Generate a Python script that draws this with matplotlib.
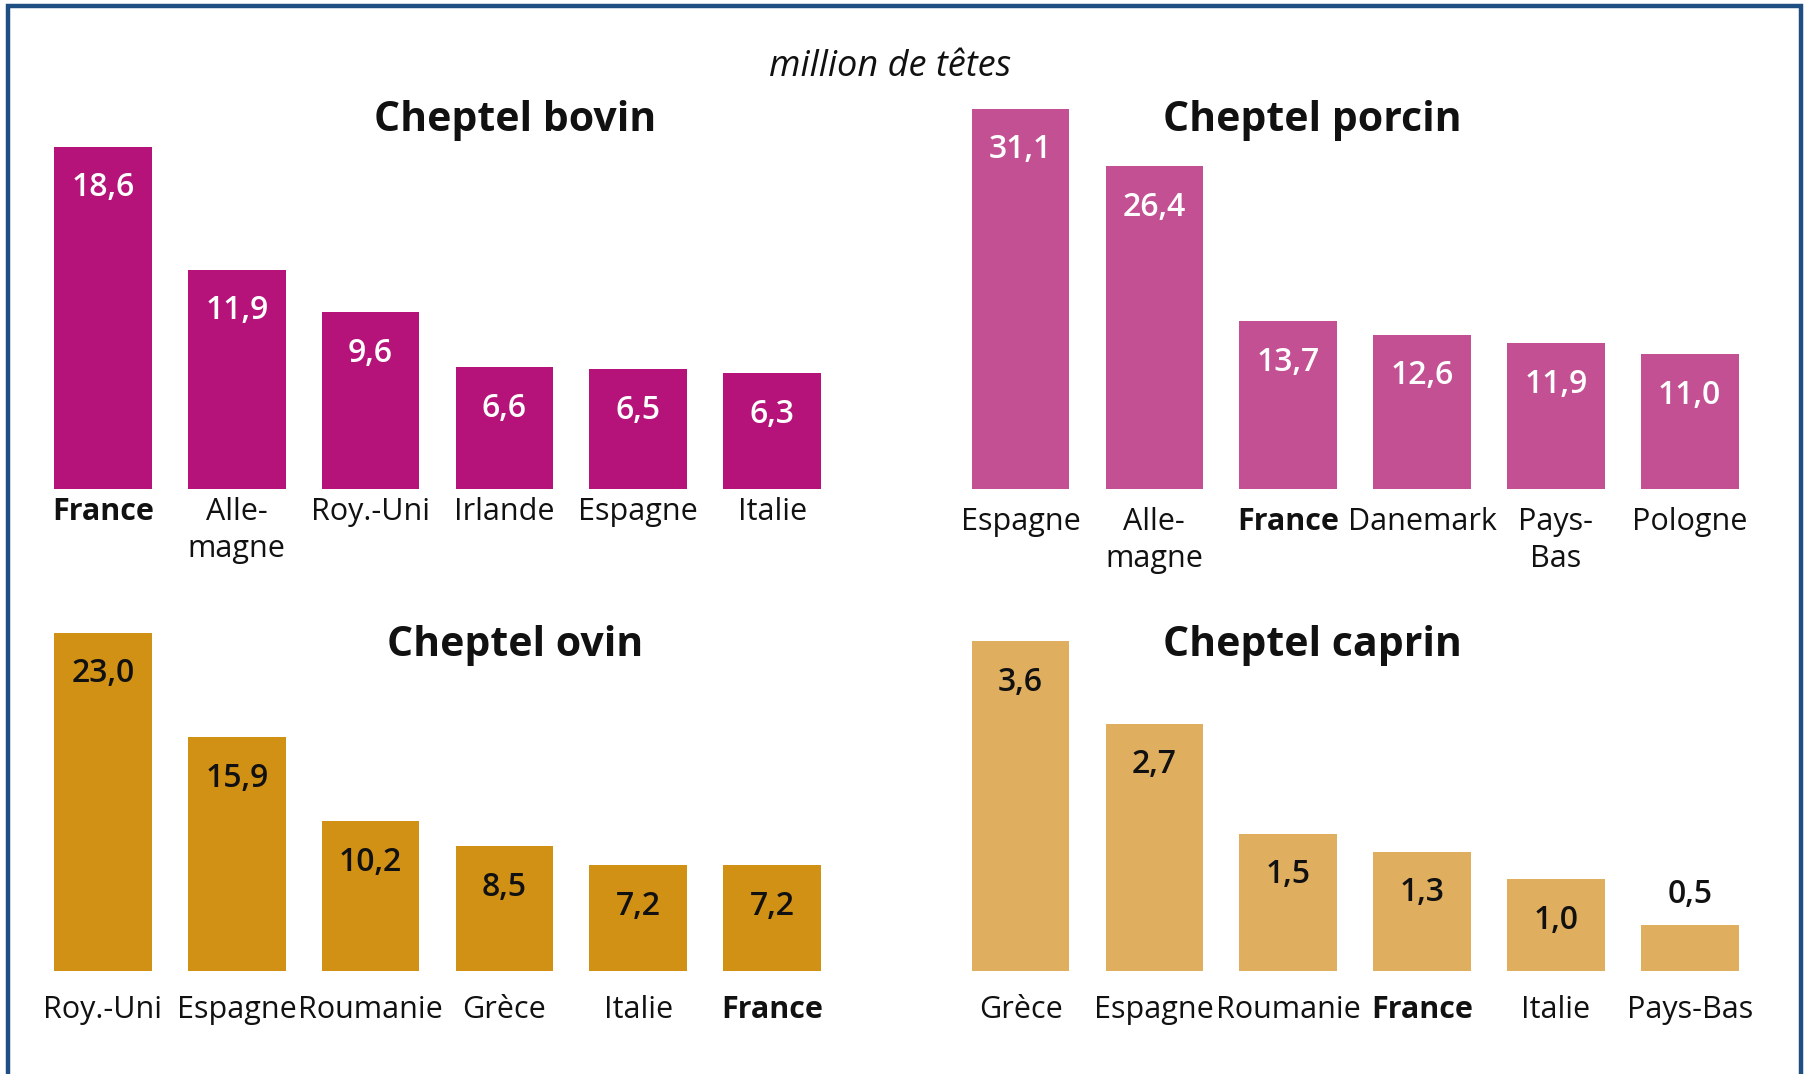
import matplotlib
matplotlib.use("Agg")
import matplotlib.pyplot as plt
from matplotlib.patches import Rectangle

plt.rcParams['font.family'] = ['Open Sans', 'DejaVu Sans']

# ---- data ----
unit_label = "million de têtes"

bovin_title = "Cheptel bovin"
bovin_countries = ["France", "Alle-\nmagne", "Roy.-Uni", "Irlande", "Espagne", "Italie"]
bovin_values = [18.6, 11.9, 9.6, 6.6, 6.5, 6.3]

porcin_title = "Cheptel porcin"
porcin_countries = ["Espagne", "Alle-\nmagne", "France", "Danemark", "Pays-\nBas", "Pologne"]
porcin_values = [31.1, 26.4, 13.7, 12.6, 11.9, 11.0]

ovin_title = "Cheptel ovin"
ovin_countries = ["Roy.-Uni", "Espagne", "Roumanie", "Grèce", "Italie", "France"]
ovin_values = [23.0, 15.9, 10.2, 8.5, 7.2, 7.2]

caprin_title = "Cheptel caprin"
caprin_countries = ["Grèce", "Espagne", "Roumanie", "France", "Italie", "Pays-Bas"]
caprin_values = [3.6, 2.7, 1.5, 1.3, 1.0, 0.5]

W, H = 1808, 1074
fig = plt.figure(figsize=(W / 100, H / 100), dpi=100)
fig.patch.set_facecolor('white')

# border frame
fig.patches.append(Rectangle((8 / W, -0.05), (1801 - 8) / W, 1 - 6 / H + 0.05,
                             transform=fig.transFigure, fill=False,
                             edgecolor='#1F4E82', linewidth=3.2, zorder=10))

fig.text(890 / W, 1 - 76 / H, unit_label, ha='center', va='baseline',
         fontsize=26, style='italic', color='#111111')

panels = [
    # title, countries, values, color, label color, axes rect, ylim top, title pos, tick pad
    (bovin_title, bovin_countries, bovin_values, '#B5137A', 'white',
     (36 / W, 0.5447, 803 / W, 0.3622), 21.13, (515, 131), 6),
    (porcin_title, porcin_countries, porcin_values, '#C45094', 'white',
     (953.6 / W, 0.5447, 803 / W, 0.3622), 31.8, (1312, 131), 13),
    (ovin_title, ovin_countries, ovin_values, '#D09115', '#111111',
     (36 / W, 0.0959, 803 / W, 0.3641), 26.6, (515, 656), 17),
    (caprin_title, caprin_countries, caprin_values, '#DFAE5E', '#111111',
     (953.6 / W, 0.0959, 803 / W, 0.3641), 4.27, (1312, 656), 17),
]

for title, cats, vals, color, lcolor, rect, ytop, tpos, pad in panels:
    ax = fig.add_axes(rect)
    x = list(range(len(cats)))
    ax.bar(x, vals, width=0.73, color=color, edgecolor='none')
    ax.set_xlim(-0.5, len(cats) - 0.5)
    ax.set_ylim(0, ytop)
    for s in ax.spines.values():
        s.set_visible(False)
    ax.set_yticks([])
    ax.set_xticks(x)
    ax.set_xticklabels(cats, fontsize=22, color='#111111', linespacing=1.3)
    ax.tick_params(axis='x', length=0, pad=pad)
    for lbl in ax.get_xticklabels():
        if lbl.get_text() == 'France':
            lbl.set_fontweight('bold')
    for xi, v in zip(x, vals):
        txt = f"{v:.1f}".replace('.', ',')
        if v / ytop < 0.15:
            ax.annotate(txt, (xi, v), xytext=(0, 31), textcoords='offset pixels',
                        ha='center', va='center', fontsize=23, fontweight='semibold',
                        color='#111111')
        else:
            ax.annotate(txt, (xi, v), xytext=(0, -41), textcoords='offset pixels',
                        ha='center', va='center', fontsize=23, fontweight='semibold',
                        color=lcolor)
    fig.text(tpos[0] / W, 1 - tpos[1] / H, title, ha='center', va='baseline',
             fontsize=29.5, fontweight='bold', color='#111111')

fig.savefig('out.png', dpi=100, facecolor='white')
